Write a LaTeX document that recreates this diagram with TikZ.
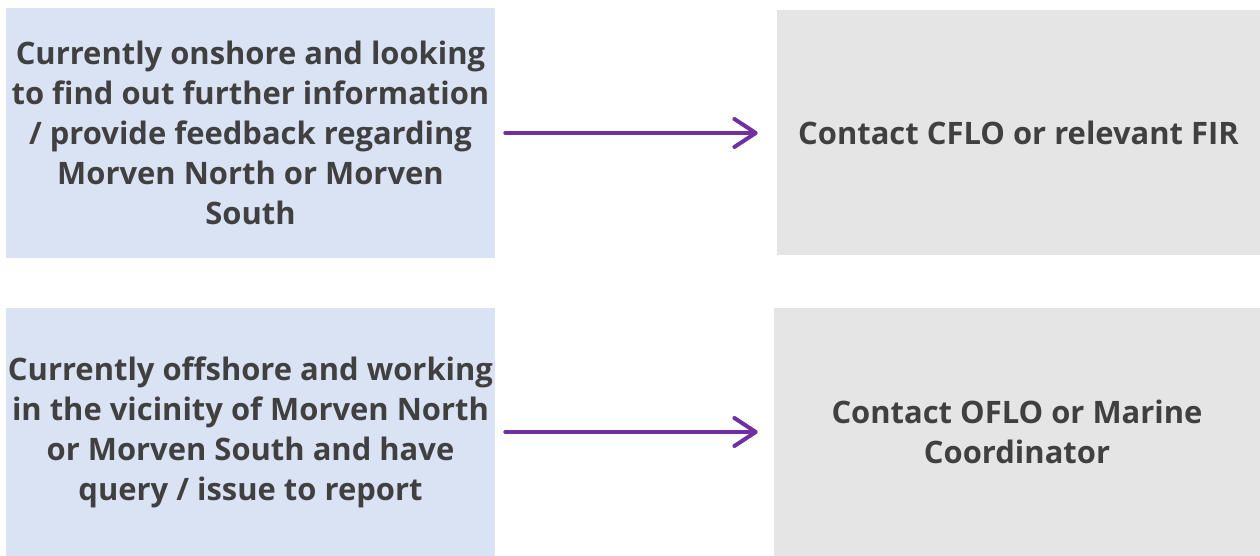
\documentclass[tikz,border=0pt]{standalone}
\usepackage{fontspec}
\setmainfont{Open Sans}
\usetikzlibrary{arrows.meta}
\definecolor{lblue}{HTML}{DAE3F3}
\definecolor{lgray}{HTML}{E5E5E5}
\definecolor{txt}{HTML}{404040}
\definecolor{arr}{HTML}{7030A0}
\tikzset{
  box/.style={rectangle, inner sep=0pt, align=center, text=txt,
    font=\bfseries\fontsize{23.2pt}{30pt}\selectfont},
  lbox/.style={box, fill=lblue},
  rbox/.style={box, fill=lgray},
  link/.style={draw=arr, line width=3pt, line cap=round,
    -{Straight Barb[length=16pt, width=21pt, line cap=round, line join=round]}}
}
\begin{document}
\begin{tikzpicture}[x=0.75pt,y=-0.75pt]
\useasboundingbox (0,0) rectangle (1260,556);
\node[lbox, minimum width=366.75pt, minimum height=187.5pt] (tl) at (250.5,133)
  {Currently onshore and looking\\to find out further information\\/ provide feedback regarding\\Morven North or Morven\\South};
\node[rbox, minimum width=362.25pt, minimum height=183.75pt] (tr) at (1018.5,132.5)
  {Contact CFLO or relevant FIR};
\node[lbox, minimum width=366.75pt, minimum height=186pt] (bl) at (250.5,432)
  {Currently offshore and working\\in the vicinity of Morven North\\or Morven South and have\\query / issue to report};
\node[rbox, minimum width=364.5pt, minimum height=186pt] (br) at (1017,432)
  {Contact OFLO or Marine\\Coordinator};
\draw[link, shorten <=7.5pt, shorten >=14.25pt] (tl.east) -- (tl.east -| tr.west);
\draw[link, shorten <=7.5pt, shorten >=12pt] (bl.east) -- (bl.east -| br.west);
\end{tikzpicture}
\end{document}
